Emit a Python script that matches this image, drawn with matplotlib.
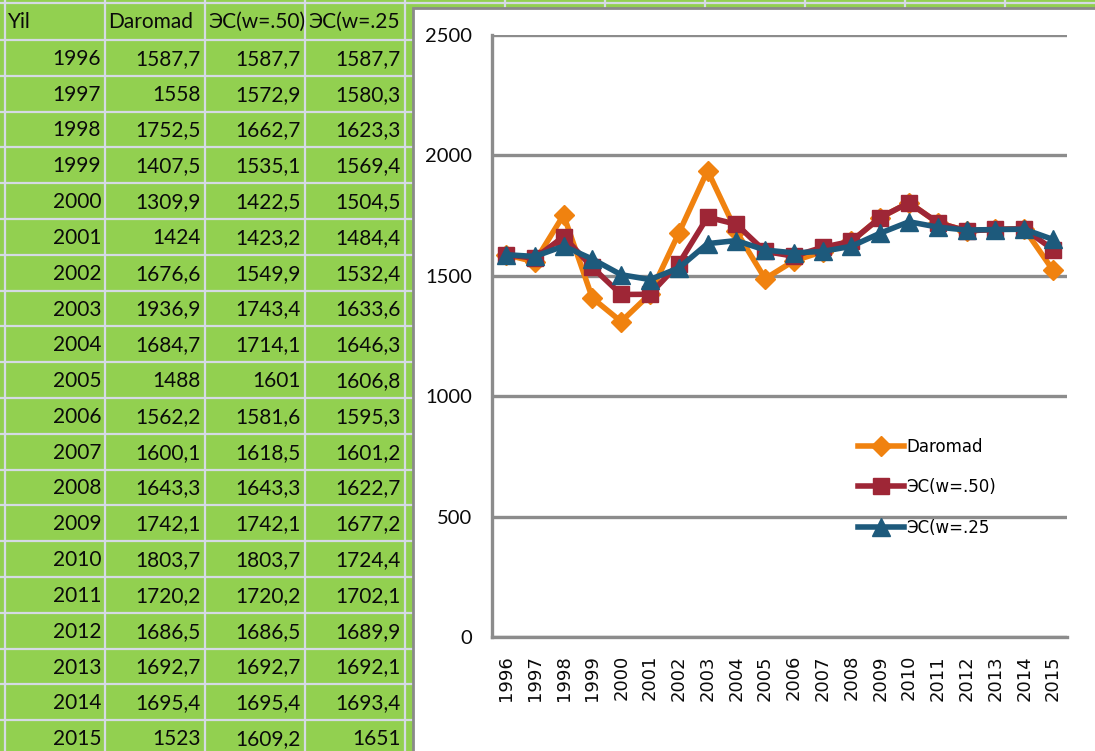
import matplotlib
matplotlib.use("Agg")
import matplotlib.pyplot as plt
from matplotlib.patches import Rectangle

W, H = 1095, 751

years = list(range(1996, 2016))
daromad = [1587.7, 1558, 1752.5, 1407.5, 1309.9, 1424, 1676.6, 1936.9, 1684.7, 1488,
           1562.2, 1600.1, 1643.3, 1742.1, 1803.7, 1720.2, 1686.5, 1692.7, 1695.4, 1523]
es50 = [1587.7, 1572.9, 1662.7, 1535.1, 1422.5, 1423.2, 1549.9, 1743.4, 1714.1, 1601,
        1581.6, 1618.5, 1643.3, 1742.1, 1803.7, 1720.2, 1686.5, 1692.7, 1695.4, 1609.2]
es25 = [1587.7, 1580.3, 1623.3, 1569.4, 1504.5, 1484.4, 1532.4, 1633.6, 1646.3, 1606.8,
        1595.3, 1601.2, 1622.7, 1677.2, 1724.4, 1702.1, 1689.9, 1692.1, 1693.4, 1651]
headers = ["Yil", "Daromad", "ЭС(w=.50)", "ЭС(w=.25"]
yticks = [0, 500, 1000, 1500, 2000, 2500]

GREEN = "#92D050"
CELL_LINE = "#D5DAE4"
GRID = "#8C8C8C"
C_OR = "#F0820F"
C_RED = "#9E2636"
C_BLUE = "#1D5A7C"

NARROW = ["Lato", "DejaVu Sans"]
WIDE = ["DejaVu Sans"]


def fmt(v):
    return f"{v:g}".replace(".", ",")


fig = plt.figure(figsize=(W / 100, H / 100), dpi=100)

# spreadsheet background in pixel coords
bg = fig.add_axes([0, 0, 1, 1])
bg.set_xlim(0, W)
bg.set_ylim(H, 0)
bg.axis("off")
bg.add_patch(Rectangle((0, 0), W, H, facecolor=GREEN, edgecolor="none", zorder=0))

COL_X = [5 + 100 * k for k in range(11)]
ROW_H = 35.8
ROW_TOP = 40
for x in COL_X:
    bg.plot([x, x], [0, H], color=CELL_LINE, lw=1.6, zorder=1)
bg.plot([0, W], [3, 3], color=CELL_LINE, lw=1.6, zorder=1)
for k in range(21):
    y = ROW_TOP + ROW_H * k
    bg.plot([0, W], [y, y], color=CELL_LINE, lw=1.6, zorder=1)

# header
for j, h in enumerate(headers):
    bg.text(COL_X[j] + 3, 22, h, ha="left", va="center", fontsize=15,
            family=NARROW, color="#0A0A0A", zorder=2)

# data cells
cols = [years, daromad, es50, es25]
for i in range(len(years)):
    yc = ROW_TOP + ROW_H * (i + 0.5) + 1
    for j, col in enumerate(cols):
        bg.text(COL_X[j + 1] - 4, yc, fmt(col[i]), ha="right", va="center",
                fontsize=15, family=NARROW, color="#0A0A0A", zorder=2)

# chart area
bg.add_patch(Rectangle((413, 8), 720, 780, facecolor="white", edgecolor="#8A8A8A",
                       lw=2, zorder=3))

# plot axes
x0, x1 = 491.6, 1067.4
y0, y1 = 637, 35
ax = fig.add_axes([x0 / W, 1 - y0 / H, (x1 - x0) / W, (y0 - y1) / H])
ax.set_facecolor("none")
ax.set_zorder(5)

xs = list(range(len(years)))
ax.plot(xs, daromad, color=C_OR, lw=4, marker="D", ms=10, label="Daromad", zorder=3)
ax.plot(xs, es50, color=C_RED, lw=4, marker="s", ms=12, label="ЭС(w=.50)", zorder=4)
ax.plot(xs, es25, color=C_BLUE, lw=4, marker="^", ms=13, label="ЭС(w=.25", zorder=5)

ax.set_xlim(-0.5, len(years) - 0.5)
ax.set_ylim(0, 2500)
ax.set_yticks(yticks)
ax.set_yticklabels([str(v) for v in yticks], family=NARROW, fontsize=14.5)
ax.set_xticks(xs)
ax.set_xticklabels([str(y) for y in years], rotation=90, family=WIDE, fontsize=13)
ax.tick_params(axis="both", length=0, colors="#0A0A0A")
ax.tick_params(axis="y", pad=14)
ax.tick_params(axis="x", pad=13)

ax.grid(axis="y", color=GRID, lw=2.4, zorder=1)
ax.set_axisbelow(True)
for s in ("top", "right"):
    ax.spines[s].set_visible(False)
for s in ("left", "bottom"):
    ax.spines[s].set_color(GRID)
    ax.spines[s].set_linewidth(2.4)

leg = ax.legend(loc="center left", bbox_to_anchor=(0.636, 0.249), frameon=False,
                prop={"family": WIDE, "size": 12}, handlelength=2.8,
                handletextpad=0.12, labelspacing=1.35, borderpad=0,
                borderaxespad=0, numpoints=1)

fig.savefig("out.png", dpi=100, facecolor="white")
